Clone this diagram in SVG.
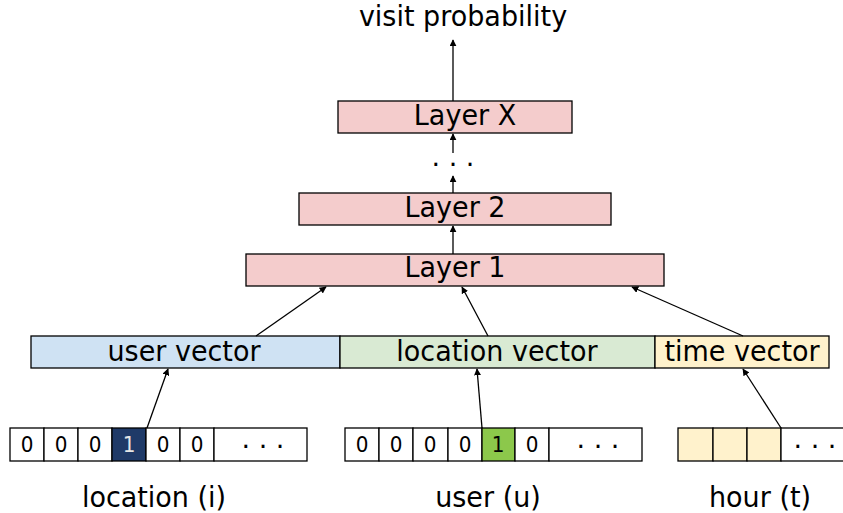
<svg xmlns="http://www.w3.org/2000/svg" width="843" height="513" viewBox="0 0 843 513">
<style>
text{font-family:"DejaVu Sans","Liberation Sans",sans-serif;fill:#000;text-anchor:middle}
.lbl{font-size:27px}
.dig{font-size:20px}
.box{stroke:#000;stroke-width:1.3}
.layer{fill:#f4cccc}
.cell{fill:#fff;stroke:#000;stroke-width:1.3}
.conn line{stroke:#000;stroke-width:1.3;marker-end:url(#ah)}
</style>
<defs>
<marker id="ah" viewBox="0 0 10 10" refX="9" refY="5" markerWidth="7" markerHeight="7" markerUnits="userSpaceOnUse" orient="auto">
<path d="M0,0 L10,5 L0,10 z" fill="#000"/>
</marker>
</defs>
<rect width="843" height="513" fill="#fff"/>

<g id="visit-probability"><text class="lbl" transform="translate(463,26) scale(1,1.08)">visit probability</text></g>

<g id="layer-x"><rect class="box layer" x="338" y="101" width="234" height="32"/><text class="lbl" transform="translate(465,125) scale(1,1.08)">Layer X</text></g>
<g id="dots"><text class="lbl" x="453" y="166">. . .</text></g>
<g id="layer-2"><rect class="box layer" x="299" y="193" width="312" height="32"/><text class="lbl" transform="translate(455,217) scale(1,1.08)">Layer 2</text></g>
<g id="layer-1"><rect class="box layer" x="246" y="254" width="418" height="32"/><text class="lbl" transform="translate(455,277) scale(1,1.08)">Layer 1</text></g>

<g id="user-vector"><rect class="box" fill="#cfe2f3" x="31" y="336" width="309" height="32"/><text class="lbl" transform="translate(184,361) scale(1,1.08)">user vector</text></g>
<g id="location-vector"><rect class="box" fill="#d9ead3" x="340" y="336" width="315" height="32"/><text class="lbl" transform="translate(497,361) scale(1,1.08)">location vector</text></g>
<g id="time-vector"><rect class="box" fill="#fff2cc" x="655" y="336" width="174" height="32"/><text class="lbl" transform="translate(742,361) scale(1,1.08)">time vector</text></g>

<g id="location-onehot">
<rect class="cell" x="10" y="428" width="34" height="33"/><text class="dig" transform="translate(27,452) scale(1,1.08)">0</text>
<rect class="cell" x="44" y="428" width="34" height="33"/><text class="dig" transform="translate(61,452) scale(1,1.08)">0</text>
<rect class="cell" x="78" y="428" width="34" height="33"/><text class="dig" transform="translate(95,452) scale(1,1.08)">0</text>
<rect class="cell" style="fill:#1f3a68" x="112" y="428" width="34" height="33"/><text class="dig" transform="translate(129,452) scale(1,1.08)" style="fill:#e6e6e6">1</text>
<rect class="cell" x="146" y="428" width="34" height="33"/><text class="dig" transform="translate(163,452) scale(1,1.08)">0</text>
<rect class="cell" x="180" y="428" width="34" height="33"/><text class="dig" transform="translate(197,452) scale(1,1.08)">0</text>
<rect class="cell" x="214" y="428" width="93" height="33"/><text class="lbl" x="263" y="448">. . .</text>
</g>
<g id="user-onehot">
<rect class="cell" x="345" y="428" width="34" height="33"/><text class="dig" transform="translate(362,452) scale(1,1.08)">0</text>
<rect class="cell" x="379" y="428" width="34" height="33"/><text class="dig" transform="translate(396,452) scale(1,1.08)">0</text>
<rect class="cell" x="413" y="428" width="35" height="33"/><text class="dig" transform="translate(430,452) scale(1,1.08)">0</text>
<rect class="cell" x="448" y="428" width="34" height="33"/><text class="dig" transform="translate(465,452) scale(1,1.08)">0</text>
<rect class="cell" style="fill:#8cc84b" x="482" y="428" width="33" height="33"/><text class="dig" transform="translate(498,452) scale(1,1.08)">1</text>
<rect class="cell" x="515" y="428" width="34" height="33"/><text class="dig" transform="translate(532,452) scale(1,1.08)">0</text>
<rect class="cell" x="549" y="428" width="93" height="33"/><text class="lbl" x="598" y="448">. . .</text>
</g>
<g id="hour-onehot">
<rect class="cell" style="fill:#fff2cc" x="678" y="428" width="35" height="33"/>
<rect class="cell" style="fill:#fff2cc" x="713" y="428" width="34" height="33"/>
<rect class="cell" style="fill:#fff2cc" x="747" y="428" width="34" height="33"/>
<rect class="cell" x="781" y="428" width="93" height="33"/><text class="lbl" x="815" y="448">. . .</text>
</g>

<g id="label-location"><text class="lbl" transform="translate(154,507) scale(1,1.08)">location (i)</text></g>
<g id="label-user"><text class="lbl" transform="translate(488,507) scale(1,1.08)">user (u)</text></g>
<g id="label-hour"><text class="lbl" transform="translate(760,507) scale(1,1.08)">hour (t)</text></g>

<g id="connectors" class="conn">
<line x1="453" y1="101" x2="453" y2="40"/>
<line x1="453" y1="153" x2="453" y2="134"/>
<line x1="453" y1="193" x2="453" y2="176"/>
<line x1="453" y1="254" x2="453" y2="226"/>
<line x1="256" y1="336" x2="326" y2="287"/>
<line x1="488" y1="336" x2="462" y2="287"/>
<line x1="743" y1="336" x2="632" y2="287"/>
<line x1="147" y1="428" x2="168" y2="369"/>
<line x1="482" y1="428" x2="477" y2="369"/>
<line x1="781" y1="428" x2="743" y2="369"/>
</g>
</svg>
